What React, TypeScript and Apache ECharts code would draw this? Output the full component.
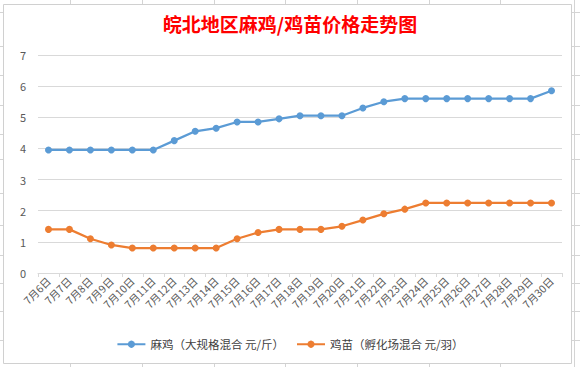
import React, { useEffect, useRef } from "react";
import * as echarts from "echarts";

const categories = [
  "7月6日", "7月7日", "7月8日", "7月9日", "7月10日", "7月11日", "7月12日",
  "7月13日", "7月14日", "7月15日", "7月16日", "7月17日", "7月18日", "7月19日",
  "7月20日", "7月21日", "7月22日", "7月23日", "7月24日", "7月25日", "7月26日",
  "7月27日", "7月28日", "7月29日", "7月30日",
];
const maJiName = "麻鸡（大规格混合 元/斤）";
const maJi = [
  3.95, 3.95, 3.95, 3.95, 3.95, 3.95, 4.25, 4.55, 4.65, 4.85, 4.85, 4.95, 5.05,
  5.05, 5.05, 5.3, 5.5, 5.6, 5.6, 5.6, 5.6, 5.6, 5.6, 5.6, 5.85,
];
const jiMiaoName = "鸡苗（孵化场混合 元/羽）";
const jiMiao = [
  1.4, 1.4, 1.1, 0.9, 0.8, 0.8, 0.8, 0.8, 0.8, 1.1, 1.3, 1.4, 1.4, 1.4, 1.5,
  1.7, 1.9, 2.05, 2.25, 2.25, 2.25, 2.25, 2.25, 2.25, 2.25,
];
const titleText = "皖北地区麻鸡/鸡苗价格走势图";

// spreadsheet background decoration
const sheetCols = [70, 142, 214, 285, 357, 429, 500, 574];
const sheetRows = [12, 46, 75, 105, 134, 159, 193, 225, 255, 283, 311, 340];

const W = 580;
const H = 367;

export default function App() {
  const ref = useRef<HTMLDivElement>(null);
  useEffect(() => {
    if (!ref.current) return;
    const chart = echarts.init(ref.current, undefined, { renderer: "svg" });
    const font = "'Noto Sans CJK SC', 'Microsoft YaHei', sans-serif";
    const sheet: any[] = [];
    sheetCols.forEach((x) =>
      sheet.push({
        type: "line",
        z: -20,
        shape: { x1: x + 0.5, y1: 0, x2: x + 0.5, y2: H },
        style: { stroke: "#d4d4d4", lineWidth: 1 },
      })
    );
    sheetRows.forEach((y) =>
      sheet.push({
        type: "line",
        z: -20,
        shape: { x1: 0, y1: y + 0.5, x2: W, y2: y + 0.5 },
        style: { stroke: "#d4d4d4", lineWidth: 1 },
      })
    );
    sheet.push({
      type: "rect",
      z: -10,
      shape: { x: 3.5, y: 4.5, width: 568, height: 359 },
      style: { fill: "#ffffff", stroke: "#d0d0d0", lineWidth: 1 },
    });
    chart.setOption({
      animation: false,
      backgroundColor: "#ffffff",
      textStyle: { fontFamily: font },
      graphic: sheet,
      title: {
        text: titleText,
        left: "center",
        top: 9,
        textStyle: {
          color: "#ff0000",
          fontSize: 19,
          fontWeight: "bold",
          fontFamily: font,
        },
      },
      grid: { left: 38, right: 18, top: 55, bottom: 94, containLabel: false },
      legend: {
        bottom: 12,
        left: "center",
        itemWidth: 28,
        itemHeight: 9,
        itemGap: 12,
        textStyle: { color: "#404040", fontSize: 11.5, fontFamily: font },
        data: [maJiName, jiMiaoName],
      },
      xAxis: {
        type: "category",
        data: categories,
        boundaryGap: true,
        axisLine: { show: true, lineStyle: { color: "#d9d9d9", width: 1 } },
        axisTick: {
          show: true,
          alignWithLabel: false,
          length: 4,
          lineStyle: { color: "#d9d9d9" },
        },
        axisLabel: {
          interval: 0,
          rotate: 45,
          color: "#595959",
          fontSize: 10.5,
          margin: 6,
          fontFamily: font,
        },
      },
      yAxis: {
        type: "value",
        min: 0,
        max: 7,
        interval: 1,
        axisLine: { show: false },
        axisTick: { show: false },
        axisLabel: { color: "#595959", fontSize: 11, margin: 12, fontFamily: font },
        splitLine: { lineStyle: { color: "#d9d9d9", width: 1 } },
      },
      series: [
        {
          name: maJiName,
          type: "line",
          data: maJi,
          color: "#5b9bd5",
          symbol: "circle",
          symbolSize: 7,
          lineStyle: { width: 2.25, color: "#5b9bd5" },
          itemStyle: { color: "#5b9bd5" },
        },
        {
          name: jiMiaoName,
          type: "line",
          data: jiMiao,
          color: "#ed7d31",
          symbol: "circle",
          symbolSize: 7,
          lineStyle: { width: 2.25, color: "#ed7d31" },
          itemStyle: { color: "#ed7d31" },
        },
      ],
    });
    return () => chart.dispose();
  }, []);
  return (
    <div
      ref={ref}
      style={{ position: "absolute", left: 0, top: 0, width: W, height: H }}
    />
  );
}
